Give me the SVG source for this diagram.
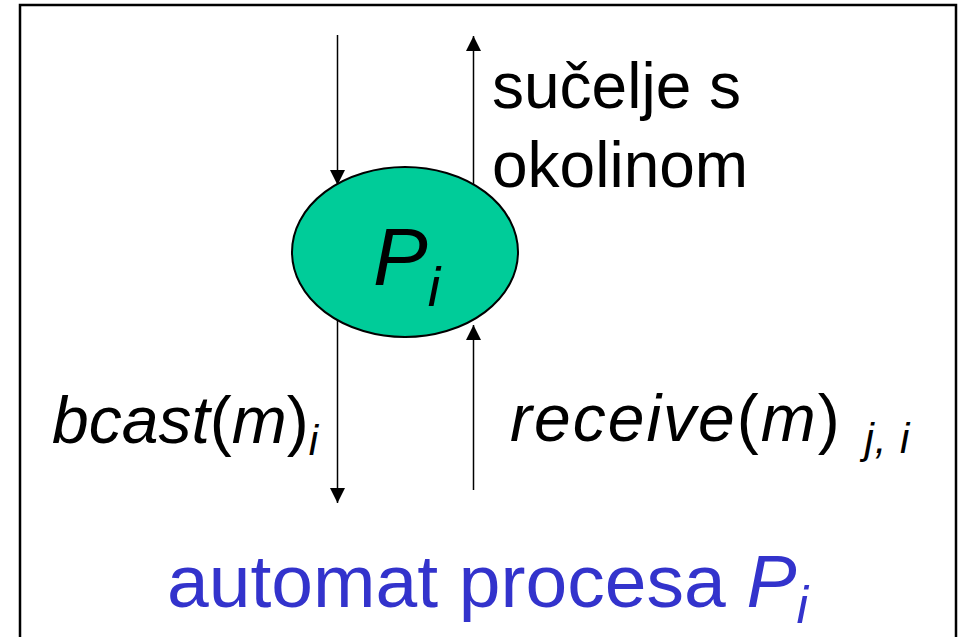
<svg xmlns="http://www.w3.org/2000/svg" width="958" height="637" viewBox="0 0 958 637">
<defs>
<style>
.t{font-family:"Liberation Sans",Arial,sans-serif;fill:#000}
.it{font-style:italic}
.ln{stroke:#000;stroke-width:1.5;fill:none}
</style>
<marker id="ah" viewBox="0 0 10 10" refX="10" refY="5" markerWidth="15" markerHeight="15" markerUnits="userSpaceOnUse" orient="auto">
<path d="M0,0 L10,5 L0,10 Z" fill="#000"/>
</marker>
</defs>
<rect x="0" y="0" width="958" height="637" fill="#fff"/>
<path d="M20,640 V5 H956 V640" fill="none" stroke="#000" stroke-width="2.5"/>
<g id="connectors">
<line class="ln" x1="337.5" y1="35" x2="337.5" y2="185" marker-end="url(#ah)"/>
<line class="ln" x1="473.5" y1="187" x2="473.5" y2="36" marker-end="url(#ah)"/>
<line class="ln" x1="337.5" y1="320" x2="337.5" y2="503" marker-end="url(#ah)"/>
<line class="ln" x1="473.5" y1="490" x2="473.5" y2="325" marker-end="url(#ah)"/>
</g>
<g id="node-Pi">
<ellipse cx="405" cy="252" rx="113" ry="85" fill="#00CC99" stroke="#000" stroke-width="2"/>
<text class="t it" x="373" y="285" font-size="82">P<tspan font-size="56" dy="21">i</tspan></text>
</g>
<g id="label-interface">
<text class="t" x="492" y="108" font-size="64">sučelje s</text>
<text class="t" x="492" y="187" font-size="64">okolinom</text>
</g>
<g id="label-bcast">
<text class="t it" x="52" y="443" font-size="66">bcast<tspan font-style="normal">(</tspan>m<tspan font-style="normal">)</tspan><tspan font-size="42" dy="12">i</tspan></text>
</g>
<g id="label-receive">
<text class="t it" x="510" y="441" font-size="66" letter-spacing="2">receive<tspan font-style="normal">(</tspan>m<tspan font-style="normal">)</tspan><tspan font-size="42" dx="10" dy="12" letter-spacing="1"> j, i</tspan></text>
</g>
<g id="caption">
<text class="t" x="167" y="607" font-size="75" style="fill:#3333CC">automat procesa <tspan font-style="italic">P</tspan><tspan font-style="italic" font-size="52" dy="16">i</tspan></text>
</g>
</svg>
